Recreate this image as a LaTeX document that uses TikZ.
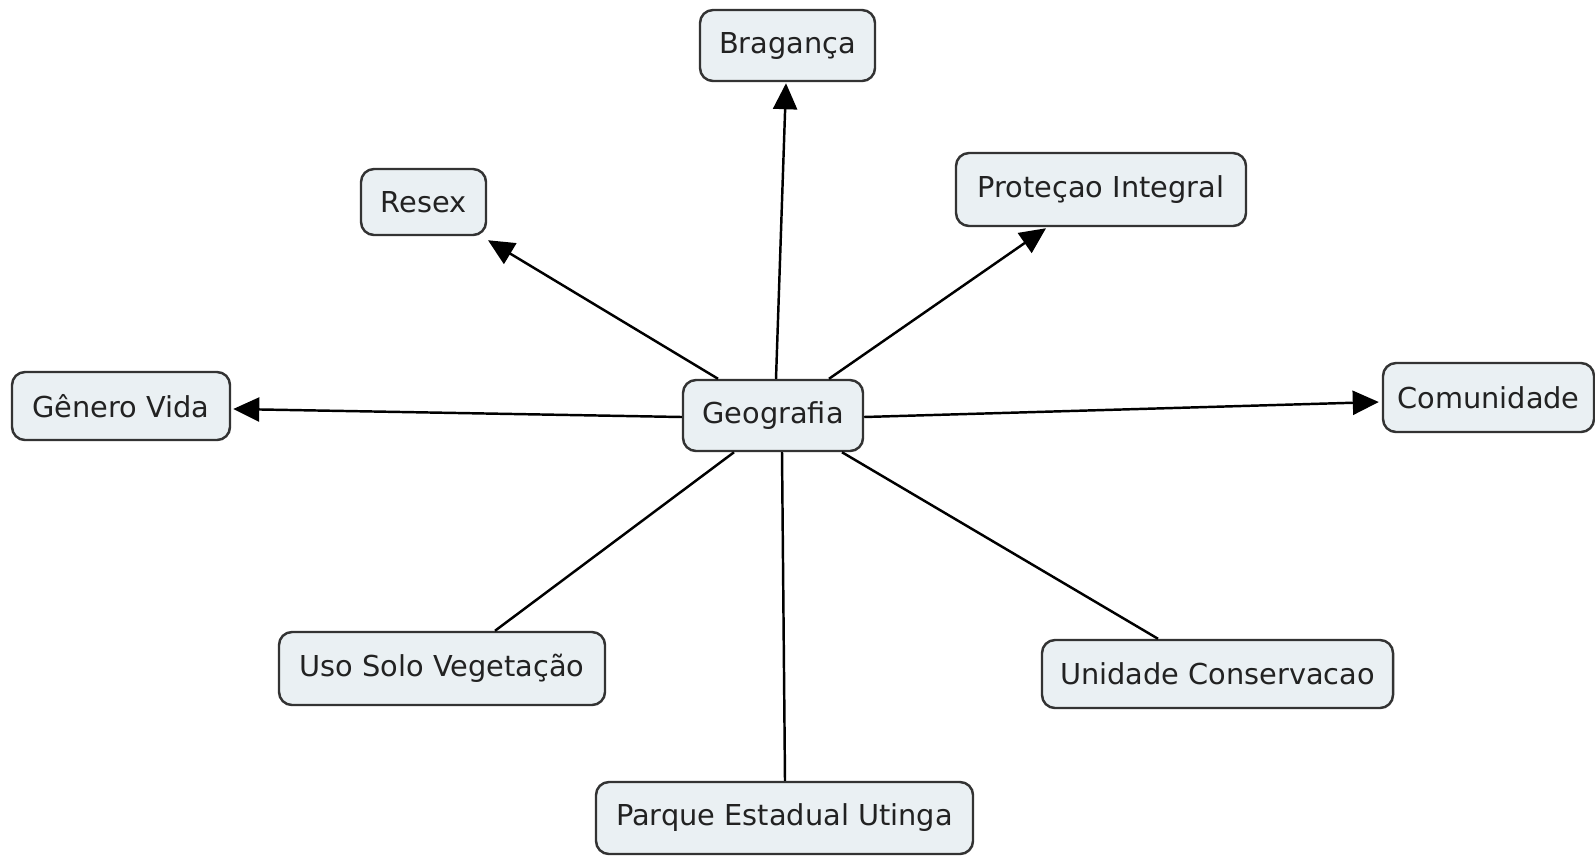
\documentclass[tikz,border=0pt]{standalone}
\usepackage{fontspec}
\setmainfont{DejaVu Sans}
\usetikzlibrary{arrows.meta,calc}
\definecolor{boxfill}{HTML}{EAF0F3}
\definecolor{boxline}{HTML}{333333}
\definecolor{txt}{HTML}{222222}
\begin{document}
\begin{tikzpicture}[x=0.02cm,y=-0.02cm,
  concept/.style={draw=boxline,fill=boxfill,line width=1.4pt,rounded corners=0.26cm,
    text=txt,font=\fontsize{16.4}{19}\selectfont,inner sep=0pt,align=center},
  link/.style={line width=1.4pt,draw=black},
  tolink/.style={link,-{Triangle[length=0.52cm,width=0.48cm]}}]
  \useasboundingbox (0,0) rectangle (1595,856);
  % concept boxes (centre, width, height in px)
  \node[concept,minimum width=180*0.02cm,minimum height=71*0.02cm] (geo) at (773,415.5) {Geografia};
  \node[concept,minimum width=175*0.02cm,minimum height=71*0.02cm] (bra) at (787.5,45.5) {Bragança};
  \node[concept,minimum width=125*0.02cm,minimum height=66*0.02cm] (res) at (423.5,202) {Resex};
  \node[concept,minimum width=290*0.02cm,minimum height=73*0.02cm] (pro) at (1101,189.5) {Proteçao Integral};
  \node[concept,minimum width=218*0.02cm,minimum height=68*0.02cm] (gen) at (121,406) {Gênero Vida};
  \node[concept,minimum width=211*0.02cm,minimum height=69*0.02cm] (com) at (1488.5,397.5) {Comunidade};
  \node[concept,minimum width=326*0.02cm,minimum height=73*0.02cm] (uso) at (442,668.5) {Uso Solo Vegetação};
  \node[concept,minimum width=351*0.02cm,minimum height=68*0.02cm] (uni) at (1217.5,674) {Unidade Conservacao};
  \node[concept,minimum width=377*0.02cm,minimum height=72*0.02cm] (par) at (784.5,818) {Parque Estadual Utinga};
  % connectors with arrowheads
  \draw[tolink] ($(geo.north)+(-55,0)$) -- ($(res.south)+(64.5,4)$);
  \draw[tolink] ($(geo.north)+(3,0)$) -- ($(bra.south)+(-1.5,1)$);
  \draw[tolink] ($(geo.north)+(56,0)$) -- ($(pro.south)+(-55,1)$);
  \draw[tolink] ($(geo.west)+(0,1.5)$) -- ($(gen.east)+(2,3)$);
  \draw[tolink] ($(geo.east)+(0,1.5)$) -- ($(com.west)+(-3,4.5)$);
  % plain connectors
  \draw[link] ($(geo.south)+(-39,0)$) -- ($(uso.north)+(53,0)$);
  \draw[link] ($(geo.south)+(9,0)$) -- ($(par.north)+(0.5,0)$);
  \draw[link] ($(geo.south)+(69,0)$) -- ($(uni.north)+(-59.5,0)$);
\end{tikzpicture}
\end{document}
